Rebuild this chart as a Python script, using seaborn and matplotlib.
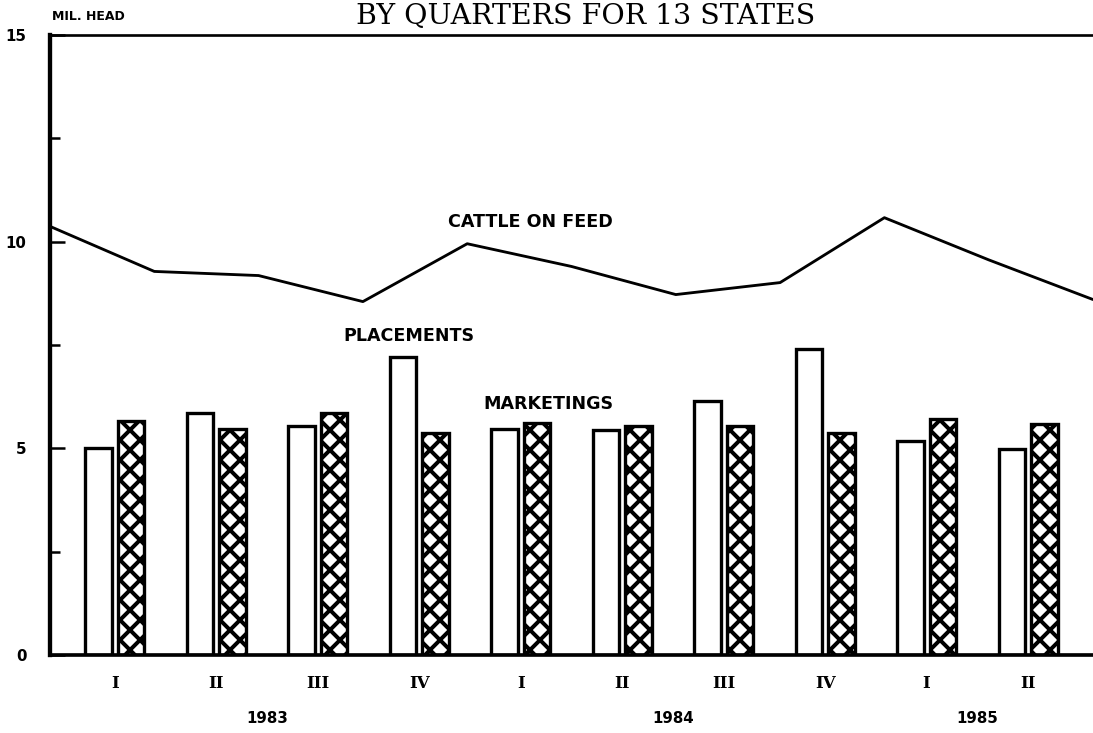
import numpy as np
import pandas as pd
import matplotlib
matplotlib.use("Agg")
import matplotlib.pyplot as plt
import seaborn as sns

# Quarterly data, 13 states (million head)
years = ["1983", "1983", "1983", "1983", "1984", "1984", "1984", "1984", "1985", "1985"]
quarters = ["I", "II", "III", "IV", "I", "II", "III", "IV", "I", "II"]
placements = [5.00, 5.85, 5.53, 7.22, 5.46, 5.45, 6.15, 7.40, 5.17, 4.99]
marketings = [5.67, 5.46, 5.85, 5.38, 5.62, 5.53, 5.54, 5.37, 5.71, 5.59]
on_feed = [10.37, 9.28, 9.18, 8.55, 9.95, 9.40, 8.72, 9.01, 10.58, 9.56, 8.60]

periods = [f"{y} {q}" for y, q in zip(years, quarters)]
df = pd.DataFrame({
    "period": periods * 2,
    "series": ["PLACEMENTS"] * len(periods) + ["MARKETINGS"] * len(periods),
    "value": placements + marketings,
})

sns.set_style("white")
plt.rcParams["font.family"] = ["DejaVu Sans"]
plt.rcParams["text.color"] = "black"
plt.rcParams["xtick.color"] = "black"
plt.rcParams["ytick.color"] = "black"
plt.rcParams["hatch.linewidth"] = 2.4
plt.rcParams["hatch.color"] = "black"

fig = plt.figure(figsize=(1093 / 120, 733 / 120), dpi=120)
ax = fig.add_axes([50 / 1093, 1 - 655 / 733, 1 - 50 / 1093, 620 / 733])

sns.barplot(data=df, x="period", y="value", hue="series",
            hue_order=["PLACEMENTS", "MARKETINGS"], palette=["white", "white"],
            saturation=1, edgecolor="black", linewidth=2.0, width=0.64, gap=0.18,
            errorbar=None, legend=False, ax=ax)
for bar in ax.containers[1]:
    bar.set_hatch("xx")

# cattle on feed line on its own x scale spanning the axis
ax2 = ax.twiny()
sns.lineplot(x=np.arange(len(on_feed)), y=on_feed, ax=ax2, color="black", linewidth=1.7)
ax2.set_xlim(0, len(on_feed) - 1)
ax2.set_axis_off()

ax.set_xlim(-0.64, len(periods) - 0.36)
ax.set_ylim(0, 15)
ax.set_xlabel("")
ax.set_ylabel("")

ax.set_yticks([0, 5, 10, 15])
ax.set_yticklabels(["0", "5", "10", "15"], fontweight="bold", fontsize=9)
ax.set_yticks([2.5, 7.5, 12.5], minor=True)
ax.tick_params(axis="y", which="major", direction="in", length=9, width=1.5, pad=14, left=True)
ax.tick_params(axis="y", which="minor", direction="in", length=6, width=1.5, left=True)

ax.set_xticks(range(len(periods)))
ax.set_xticklabels(quarters, fontfamily="DejaVu Serif", fontweight="bold", fontsize=10)
ax.tick_params(axis="x", length=0, pad=12)

for yr in dict.fromkeys(years):
    idx = [i for i, y in enumerate(years) if y == yr]
    ax.text(np.mean(idx), -0.102, yr, transform=ax.get_xaxis_transform(),
            ha="center", va="center", fontweight="bold", fontsize=9)

for side, lw in [("left", 2.6), ("bottom", 2.2), ("top", 1.6)]:
    ax.spines[side].set_linewidth(lw)
    ax.spines[side].set_color("black")
ax.spines["right"].set_visible(False)

ax.text(3.28, 10.48, "CATTLE ON FEED", ha="left", va="center", fontweight="bold", fontsize=10.5)
ax.text(2.25, 7.72, "PLACEMENTS", ha="left", va="center", fontweight="bold", fontsize=10.5)
ax.text(3.63, 6.08, "MARKETINGS", ha="left", va="center", fontweight="bold", fontsize=10.5)

fig.text(88 / 1093, 1 - 17 / 733, "MIL. HEAD", ha="center", va="center",
         fontweight="bold", fontsize=7.5)
fig.text(586 / 1093, 1 - 24 / 733, "BY QUARTERS FOR 13 STATES", ha="center",
         va="baseline", fontfamily="DejaVu Serif", fontsize=17)

fig.savefig("out.png", dpi=120)
